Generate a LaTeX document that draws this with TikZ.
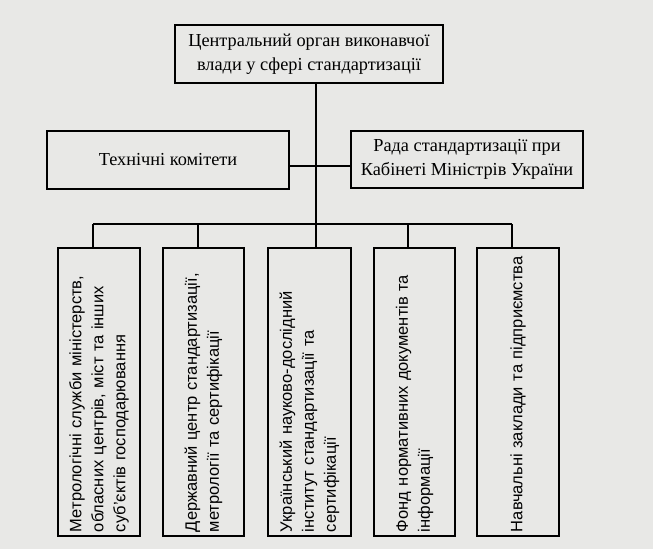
\documentclass[tikz,border=0pt]{standalone}
\usepackage{fontspec}
\setmainfont{Liberation Serif}
\newfontfamily\lowfont{Liberation Sans}
\definecolor{paper}{RGB}{232,232,230}
\begin{document}
\begin{tikzpicture}[x=1pt,y=-1pt,
  upbox/.style={draw=black,line width=1.3pt,inner sep=0pt,align=center,
    font=\fontsize{18.3}{24}\selectfont},
  lowbox/.style={draw=black,line width=1.3pt,rotate=90,minimum width=288pt,
    inner xsep=4pt,inner ysep=0pt,text width=280pt,align=left,
    font=\lowfont\fontsize{16.5}{22}\selectfont},
  conn/.style={line width=1.3pt}]
\fill[paper] (0,0) rectangle (653,549);
\useasboundingbox (0,0) rectangle (653,549);
\node[upbox,minimum width=268pt,minimum height=58pt] (top) at (309,54)
  {Центральний орган виконавчої\\влади у сфері стандартизації};
\node[upbox,minimum width=242pt,minimum height=58pt] (tech) at (168,160)
  {Технічні комітети};
\node[upbox,minimum width=232pt,minimum height=57pt] (rada) at (467,159.5)
  {Рада стандартизації при\\Кабінеті Міністрів України};
\node[lowbox,minimum height=82pt] (b1) at (99,392)
  {Метрологічні служби міністерств,\\обласних центрів, міст та інших\\суб’єктів господарювання};
\node[lowbox,minimum height=81pt] (b2) at (203.5,392)
  {Державний центр стандартизації,\\метрології та сертифікації};
\node[lowbox,minimum height=83pt] (b3) at (309.5,392)
  {Український науково-дослідний\\інститут стандартизації та\\сертифікації};
\node[lowbox,minimum height=81pt] (b4) at (414.5,392)
  {Фонд нормативних документів та\\інформації};
\node[lowbox,minimum height=82pt] (b5) at (518,392)
  {Навчальні заклади та підприємства};
\coordinate (s0) at (316,83);
\coordinate (j1) at (316,166);
\coordinate (bus) at (316,224);
\coordinate (d1) at (93,224);
\coordinate (d2) at (198,224);
\coordinate (d4) at (408,224);
\coordinate (d5) at (512,224);
\draw[conn] (top.south -| s0) -- (bus) -- (b3.east -| bus);
\draw[conn] (tech.east |- j1) -- (rada.west |- j1);
\draw[conn] (d1) -- (d5);
\draw[conn] (d1) -- (b1.east -| d1);
\draw[conn] (d2) -- (b2.east -| d2);
\draw[conn] (d4) -- (b4.east -| d4);
\draw[conn] (d5) -- (b5.east -| d5);
\end{tikzpicture}
\end{document}
